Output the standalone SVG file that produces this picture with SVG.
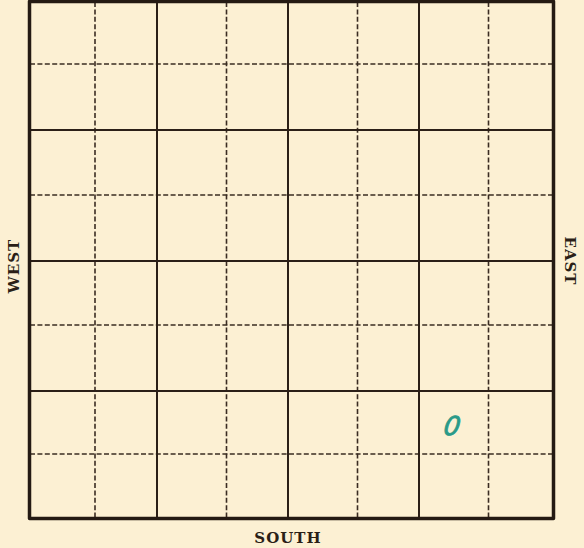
<svg xmlns="http://www.w3.org/2000/svg" width="584" height="548" viewBox="0 0 584 548">
<style>
.solid{stroke:#2b1f17;stroke-width:2;fill:none}
.dash{stroke:#3a2c22;stroke-width:1.6;stroke-dasharray:5 2.4;fill:none}
.border{stroke:#241a13;stroke-width:3.5;fill:none;stroke-linejoin:round}
.lbl{font-family:"DejaVu Serif","Liberation Serif",serif;font-weight:bold;font-size:15px;fill:#2b1f17;letter-spacing:1px}
</style>
<rect x="0" y="0" width="584" height="548" fill="#fcf0d3"/>
<g id="grid">
<g id="dashed-lines">
<line class="dash" x1="95" y1="2" x2="95" y2="518"/>
<line class="dash" x1="226.5" y1="2" x2="226.5" y2="518"/>
<line class="dash" x1="357.5" y1="2" x2="357.5" y2="518"/>
<line class="dash" x1="488.5" y1="2" x2="488.5" y2="518"/>
<line class="dash" x1="30" y1="64" x2="553" y2="64"/>
<line class="dash" x1="30" y1="195" x2="553" y2="195"/>
<line class="dash" x1="30" y1="325" x2="553" y2="325"/>
<line class="dash" x1="30" y1="454" x2="553" y2="454"/>
</g>
<g id="solid-lines">
<line class="solid" x1="157" y1="2" x2="157" y2="518"/>
<line class="solid" x1="288" y1="2" x2="288" y2="518"/>
<line class="solid" x1="419" y1="2" x2="419" y2="518"/>
<line class="solid" x1="30" y1="130" x2="553" y2="130"/>
<line class="solid" x1="30" y1="261" x2="553" y2="261"/>
<line class="solid" x1="30" y1="391" x2="553" y2="391"/>
</g>
<rect id="border" class="border" x="29.5" y="1.5" width="524" height="517"/>
</g>
<g id="labels">
<text class="lbl" transform="translate(19,266) rotate(-90)" text-anchor="middle">WEST</text>
<text class="lbl" transform="translate(565,261) rotate(90)" text-anchor="middle">EAST</text>
<text class="lbl" x="288" y="543" text-anchor="middle">SOUTH</text>
</g>
<text id="mark" x="444" y="435" font-family="'DejaVu Sans',sans-serif" font-style="italic" font-size="26" fill="#2a9a88" stroke="#2a9a88" stroke-width="0.8" transform="skewX(-8) translate(60,0)">0</text>
</svg>
